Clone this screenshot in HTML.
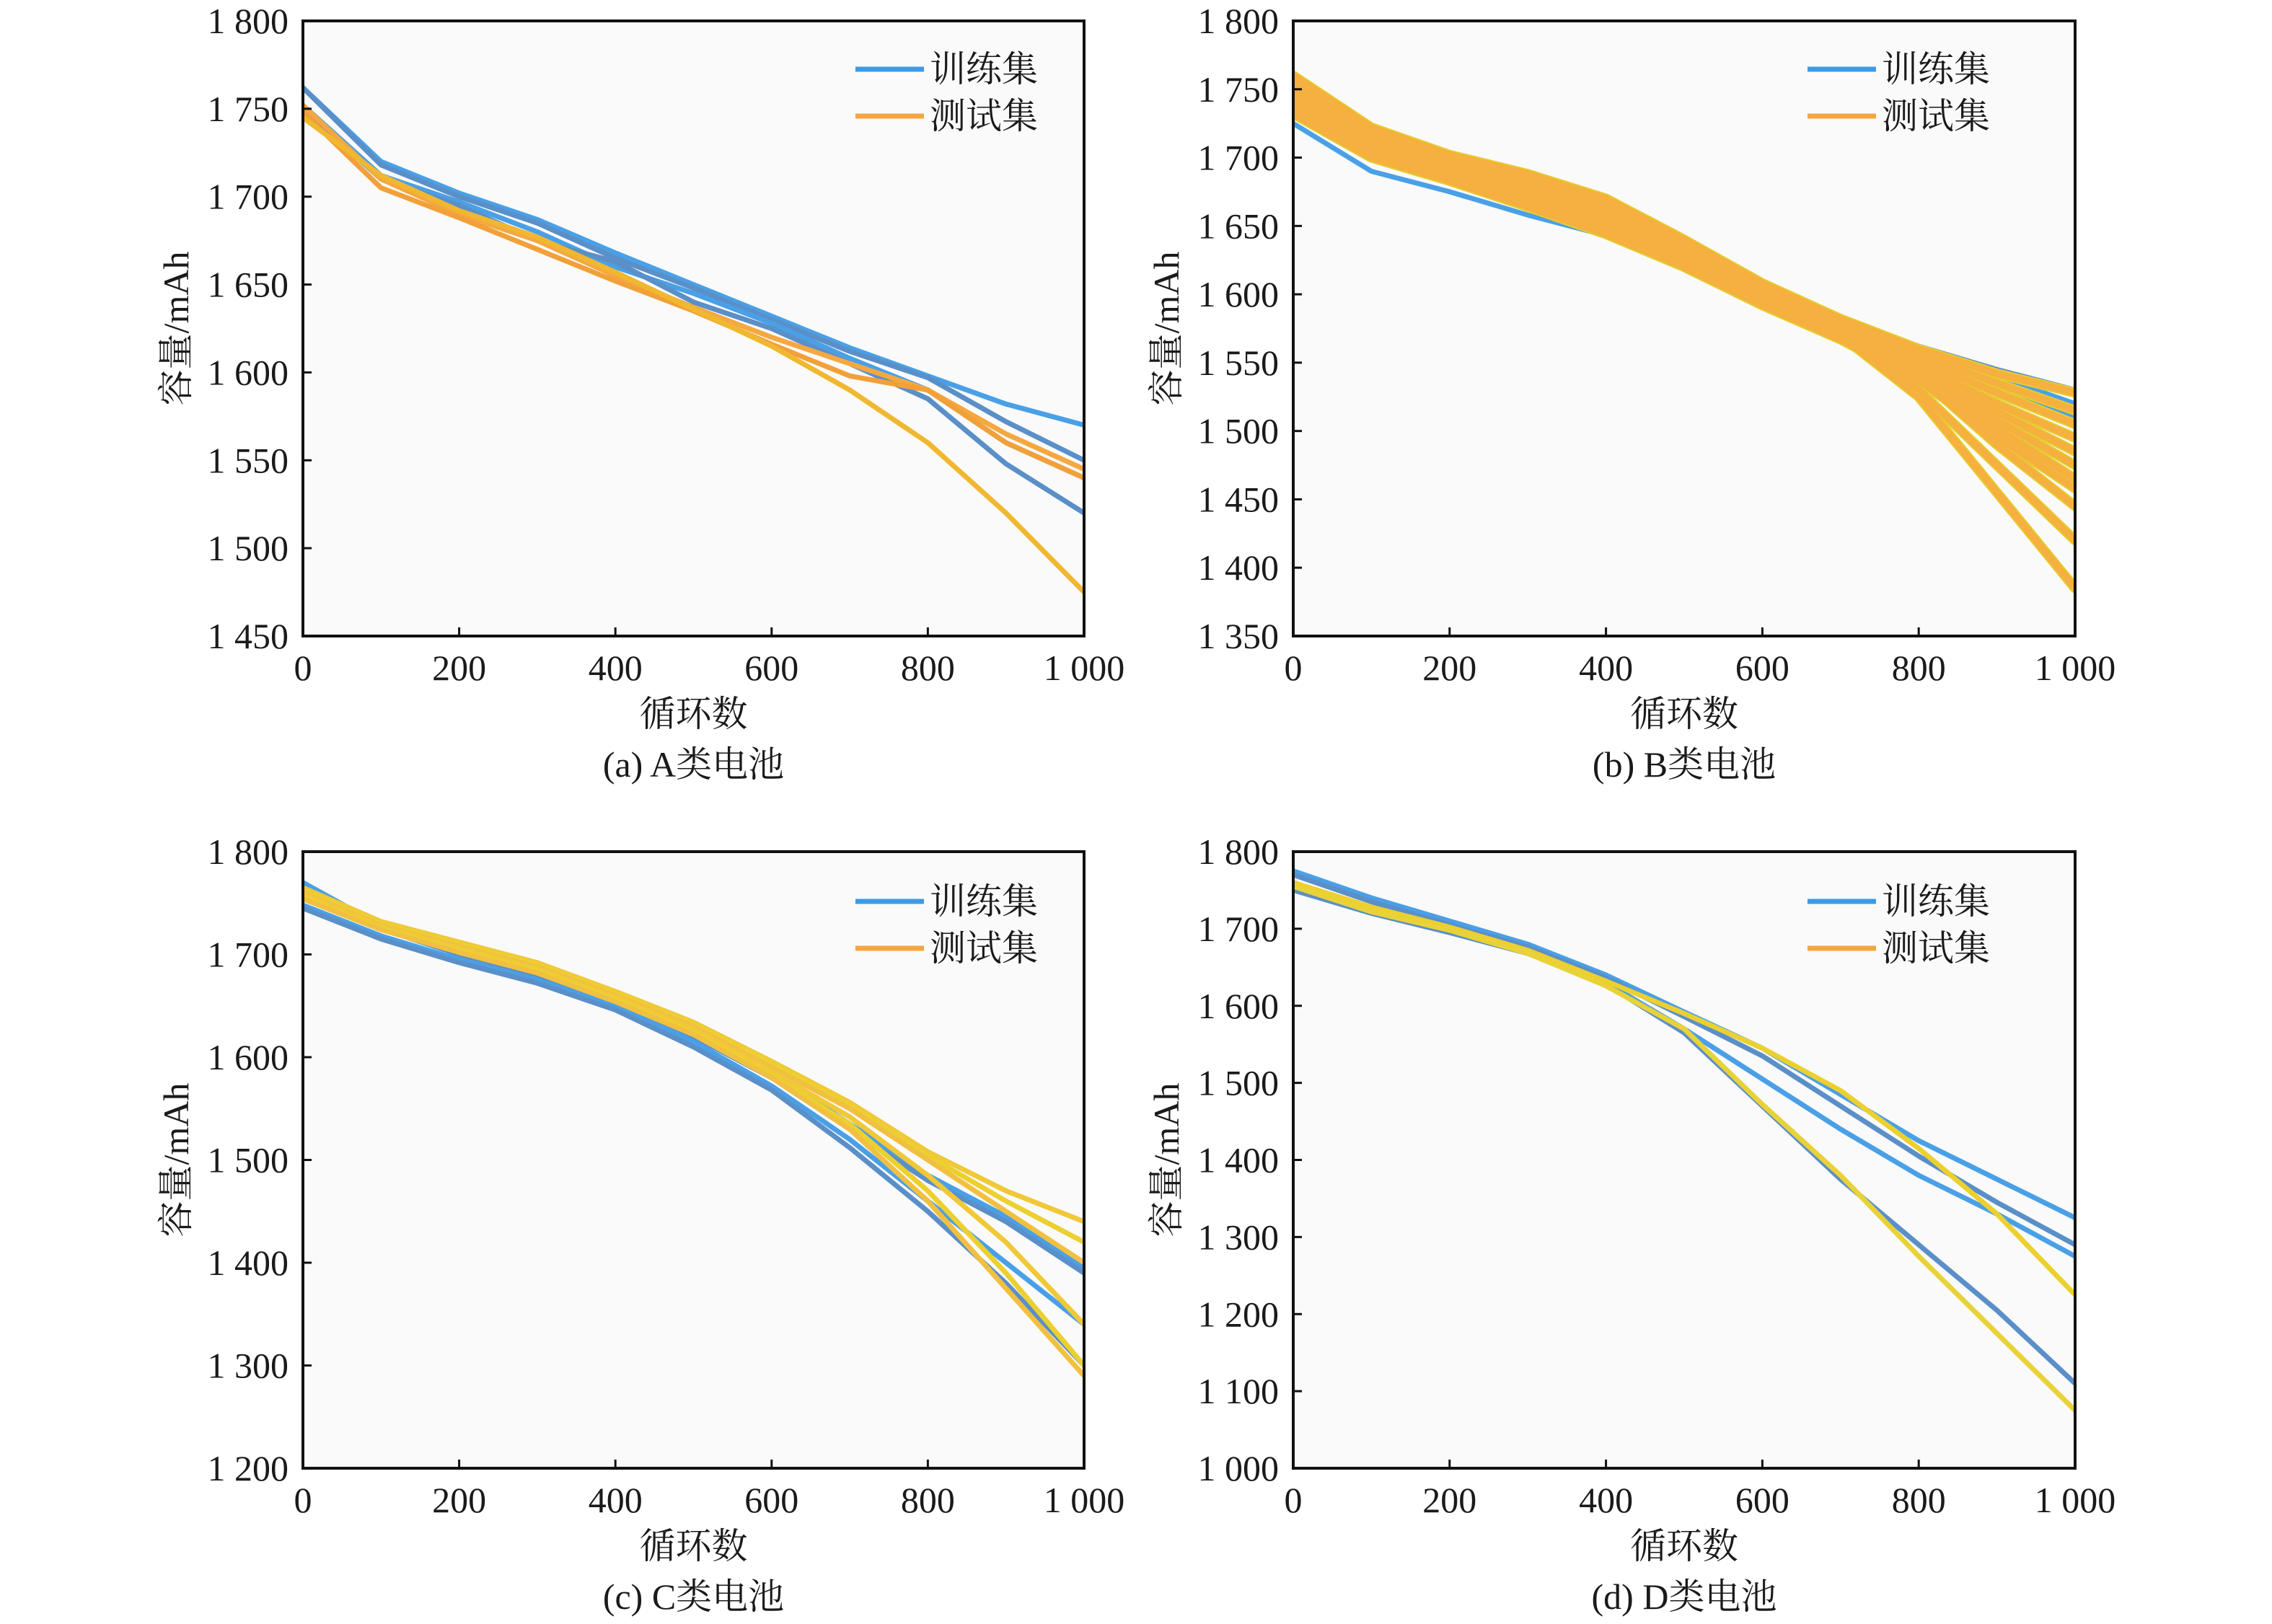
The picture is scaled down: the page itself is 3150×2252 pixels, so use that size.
<!DOCTYPE html>
<html><head><meta charset="utf-8"><style>
html,body{margin:0;padding:0;background:#fff}
svg text{font-family:"Liberation Serif","Times New Roman","Noto Serif CJK SC","Noto Sans CJK SC",serif;fill:#1a1a1a}
</style></head><body>
<svg id="fig" width="3150" height="2247" viewBox="0 0 3150 2247" xmlns="http://www.w3.org/2000/svg"></svg>
<script>
// Shared cycle grid
const cycles = [0,100,200,300,400,500,600,700,800,900,1000];
const xTicks = [0,200,400,600,800,1000];
const xTickLabels = ["0","200","400","600","800","1 000"];

// Panel A
const aYTicks = [1450,1500,1550,1600,1650,1700,1750,1800];
const aYTickLabels = ["1 450","1 500","1 550","1 600","1 650","1 700","1 750","1 800"];
const aTrain = [
 [1762,1720,1702,1687,1668,1650,1632,1614,1598,1582,1570],
 [1762,1718,1700,1685,1665,1648,1630,1612,1597,1572,1550],
 [1752,1712,1697,1680,1660,1645,1628,1608,1590,1560,1540],
 [1750,1710,1695,1675,1663,1640,1625,1605,1585,1548,1520]
];
const aTest = [
 [1752,1710,1690,1675,1655,1637,1620,1605,1590,1565,1545],
 [1748,1705,1688,1670,1652,1635,1616,1598,1590,1560,1540],
 [1745,1712,1692,1677,1657,1636,1615,1590,1560,1520,1475]
];

// Panel B
const bYTicks = [1350,1400,1450,1500,1550,1600,1650,1700,1750,1800];
const bYTickLabels = ["1 350","1 400","1 450","1 500","1 550","1 600","1 650","1 700","1 750","1 800"];
const bTrain = [
 [1725,1690,1675,1658,1643,1622,1598,1578,1560,1540,1520],
 [1755,1718,1700,1685,1665,1640,1605,1582,1562,1545,1530],
 [1740,1705,1688,1670,1652,1630,1600,1578,1555,1530,1510]
];
const bTest = [
 [1760,1722,1702,1688,1670,1640,1608,1582,1560,1542,1528],
 [1755,1718,1700,1684,1666,1636,1605,1580,1556,1535,1515],
 [1750,1715,1697,1680,1662,1633,1602,1577,1552,1528,1505],
 [1746,1712,1694,1676,1658,1630,1600,1575,1548,1520,1495],
 [1742,1708,1690,1672,1654,1627,1598,1573,1545,1514,1485],
 [1738,1705,1688,1670,1650,1624,1596,1571,1542,1508,1475],
 [1735,1702,1685,1667,1647,1622,1594,1569,1540,1502,1465],
 [1732,1700,1683,1664,1644,1620,1592,1567,1537,1496,1458],
 [1748,1712,1695,1678,1660,1630,1600,1575,1540,1490,1445],
 [1745,1710,1692,1675,1656,1628,1598,1572,1530,1475,1420],
 [1740,1708,1690,1672,1654,1626,1596,1570,1525,1455,1385]
];

// Panel C
const cYTicks = [1200,1300,1400,1500,1600,1700,1800];
const cYTickLabels = ["1 200","1 300","1 400","1 500","1 600","1 700","1 800"];
const cTrain = [
 [1770,1728,1702,1682,1658,1625,1585,1535,1485,1445,1395],
 [1760,1725,1700,1680,1655,1620,1580,1530,1480,1440,1390],
 [1748,1718,1695,1675,1650,1615,1572,1520,1460,1400,1340],
 [1745,1715,1692,1672,1646,1610,1568,1512,1450,1380,1300]
];
const cTest = [
 [1765,1732,1712,1692,1664,1634,1596,1556,1508,1470,1440],
 [1762,1730,1710,1690,1662,1632,1594,1553,1504,1460,1420],
 [1760,1728,1708,1688,1660,1630,1590,1550,1500,1450,1400],
 [1758,1727,1706,1686,1658,1627,1586,1542,1485,1420,1340],
 [1756,1725,1704,1684,1656,1624,1582,1535,1470,1390,1300],
 [1754,1724,1702,1682,1654,1622,1580,1530,1460,1375,1290]
];

// Panel D
const dYTicks = [1000,1100,1200,1300,1400,1500,1600,1700,1800];
const dYTickLabels = ["1 000","1 100","1 200","1 300","1 400","1 500","1 600","1 700","1 800"];
const dTrain = [
 [1775,1740,1710,1680,1640,1592,1545,1485,1425,1375,1325],
 [1770,1735,1705,1676,1636,1586,1535,1470,1405,1345,1290],
 [1760,1725,1698,1670,1630,1570,1505,1440,1380,1330,1275],
 [1750,1720,1695,1668,1628,1565,1470,1375,1290,1205,1110]
];
const dTest = [
 [1760,1728,1702,1672,1632,1590,1545,1490,1415,1330,1225],
 [1755,1722,1698,1668,1626,1570,1472,1380,1275,1175,1075]
];

const NS = "http://www.w3.org/2000/svg";
const svg = document.getElementById('fig');
function mk(tag, attrs, parent){
  const e = document.createElementNS(NS, tag);
  for (const k in attrs) e.setAttribute(k, attrs[k]);
  (parent||svg).appendChild(e);
  return e;
}
function txt(parent, x, y, s, size, anchor, extra){
  const t = mk('text', Object.assign({x:x, y:y, 'font-size':size, 'text-anchor':anchor||'middle', 'dominant-baseline':'central'}, extra||{}), parent);
  t.textContent = s;
  return t;
}

function panel(id, L, T, R, B, yTicks, yLabels, train, test, testColors, caption, legX, legY, thick){
  const g = mk('g', {});
  
  
  const yMin = yTicks[0], yMax = yTicks[yTicks.length-1];
  const sx = v => L + (v/1000)*(R-L);
  const sy = v => B - (v - yMin)/(yMax - yMin)*(B-T);
  const bg = mk('rect', {x:L, y:T, width:R-L, height:B-T, fill:'#fafafa'}, g);
  
  
  const clipId = 'clip'+id;
  const cp = mk('clipPath', {id:clipId}, g);
  mk('rect', {x:L, y:T, width:R-L, height:B-T}, cp);
  const lg = mk('g', {'clip-path':'url(#'+clipId+')'}, g);
  function draw(series, color, w, name, idx){
    const pts = series.map((v,i)=> sx(cycles[i]).toFixed(1)+','+sy(v).toFixed(1)).join(' ');
    const p = mk('polyline', {points:pts, fill:'none', stroke:color, 'stroke-width':w, 'stroke-linejoin':'round', 'stroke-linecap':'round'}, lg);
    
    
  }
  train.forEach((s,i)=> draw(s, i%2 ? '#5a8fc8' : '#4aa0e6', 7, 'train-line', i));
  test.forEach((s,i)=> { if (thick) draw(s, '#e6cc30', thick+4, 'test-edge', i); });
  test.forEach((s,i)=> draw(s, testColors[i % testColors.length], thick || 7, 'test-line', i));
  const fr = mk('rect', {x:L, y:T, width:R-L, height:B-T, fill:'none', stroke:'#111', 'stroke-width':4}, g);
  
  
  xTicks.forEach((v,i)=>{
    mk('line', {x1:sx(v), x2:sx(v), y1:B, y2:B-12, stroke:'#111', 'stroke-width':3}, g);
    const t = txt(g, sx(v), B+44, xTickLabels[i], 50);
    
    
  });
  yTicks.forEach((v,i)=>{
    mk('line', {x1:L, x2:L+12, y1:sy(v), y2:sy(v), stroke:'#111', 'stroke-width':3}, g);
    const t = txt(g, L-20, sy(v), yLabels[i], 50, 'end');
    
    
  });
  const xl = txt(g, (L+R)/2, B+108, '循环数', 50);
  
  
  const cap = txt(g, (L+R)/2, B+178, caption, 50);
  
  
  const yl = txt(g, 0, 0, '容量/mAh', 50, 'middle', {transform:'translate('+(L-176)+','+((T+B)/2)+') rotate(-90)'});
  
  
  const le1 = mk('line', {x1:legX, x2:legX+95, y1:legY, y2:legY, stroke:'#3c9be6', 'stroke-width':7}, g);
  
  
  const lt1 = txt(g, legX+103, legY, '训练集', 50, 'start');
  
  
  const le2 = mk('line', {x1:legX, x2:legX+95, y1:legY+65, y2:legY+65, stroke:'#f5a540', 'stroke-width':7}, g);
  
  
  const lt2 = txt(g, legX+103, legY+65, '测试集', 50, 'start');
  
  
}

panel('a', 420, 29, 1503, 882, aYTicks, aYTickLabels, aTrain, aTest, ['#f5a840','#f2a038','#f0b830'], '(a) A类电池', 1186, 96, 0);
panel('b', 1793, 29, 2877, 882, bYTicks, bYTickLabels, bTrain, bTest, ['#f5b040'], '(b) B类电池', 2506, 96, 10);
panel('c', 420, 1181, 1503, 2036, cYTicks, cYTickLabels, cTrain, cTest, ['#f0c838','#ecd030','#f2c040'], '(c) C类电池', 1186, 1250, 0);
panel('d', 1793, 1181, 2877, 2036, dYTicks, dYTickLabels, dTrain, dTest, ['#ecd030','#e8d238'], '(d) D类电池', 2506, 1250, 0);
</script>
</body></html>
